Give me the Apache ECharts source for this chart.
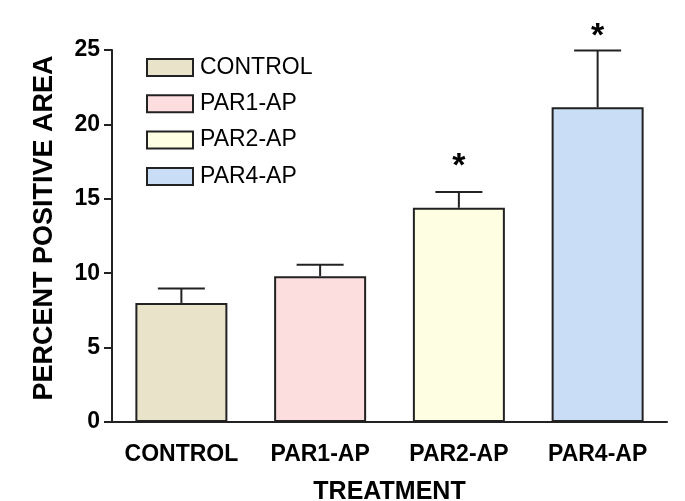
<!DOCTYPE html>
<html>
<head>
<meta charset="utf-8">
<script src="https://cdn.jsdelivr.net/npm/echarts@6/dist/echarts.min.js"></script>
<style>
html,body{margin:0;padding:0;background:#fff;}
#chart{width:685px;height:501px;}
</style>
</head>
<body>
<div id="chart"></div>
<script>
var categories = ['CONTROL', 'PAR1-AP', 'PAR2-AP', 'PAR4-AP'];
var means = [8.0, 9.8, 14.4, 21.15];
var errors = [0.97, 0.76, 1.05, 3.82];
var significance = ['', '', '*', '*'];
var yTicks = [0, 5, 10, 15, 20, 25];
var colors = ['#E9E3C9', '#FDDEDF', '#FEFEE2', '#C9DDF6'];

var FONT = "'Liberation Sans', Arial, sans-serif";
var chart = echarts.init(document.getElementById('chart'));

var barSeries = categories.map(function (c, i) {
  return {
    name: c,
    type: 'bar',
    barWidth: 92,
    barGap: '-100%',
    data: categories.map(function (_, j) { return j === i ? means[j] : '-'; }),
    itemStyle: { color: colors[i], borderColor: '#222', borderWidth: 2 },
    emphasis: { disabled: true },
    silent: true,
    z: 2
  };
});

var errData = categories.map(function (c, i) { return [i, means[i], means[i] + errors[i], significance[i]]; });

var errSeries = {
  type: 'custom',
  silent: true,
  z: 5,
  data: errData,
  renderItem: function (params, api) {
    var x = api.value(0);
    var lo = api.coord([x, api.value(1)]);
    var hi = api.coord([x, api.value(2)]);
    var half = 23.5;
    var children = [
      { type: 'line', shape: { x1: lo[0], y1: lo[1], x2: hi[0], y2: hi[1] }, style: { stroke: '#222', lineWidth: 2 } },
      { type: 'line', shape: { x1: hi[0] - half, y1: hi[1], x2: hi[0] + half, y2: hi[1] }, style: { stroke: '#222', lineWidth: 2 } }
    ];
    var sig = errData[params.dataIndex][3];
    if (sig) {
      var sy = Math.max(hi[1] - 25, 37);
      children.push({
        type: 'text',
        style: { text: sig, x: hi[0], y: sy, align: 'center', verticalAlign: 'middle', fill: '#000', font: 'bold 34px ' + FONT }
      });
    }
    return { type: 'group', children: children };
  }
};

chart.setOption({
  animation: false,
  backgroundColor: '#fff',
  grid: { left: 112, right: 18, top: 50, bottom: 79, containLabel: false, outerBoundsMode: 'none' },
  legend: {
    orient: 'vertical',
    left: 146,
    top: 56,
    padding: 0,
    itemWidth: 46,
    itemHeight: 17,
    itemGap: 13.3,
    icon: 'rect',
    selectedMode: false,
    data: categories,
    itemStyle: { borderColor: '#222', borderWidth: 2 },
    textStyle: { fontFamily: FONT, fontSize: 23, color: '#000', padding: [0, 0, 0, 2] }
  },
  xAxis: {
    type: 'category',
    data: categories,
    name: 'TREATMENT',
    nameLocation: 'middle',
    nameGap: 58,
    nameTextStyle: { fontFamily: FONT, fontSize: 25, fontWeight: 'bold', color: '#000' },
    axisLine: { lineStyle: { color: '#222', width: 2 } },
    axisTick: { alignWithLabel: true, length: 10, lineStyle: { color: '#222', width: 2 } },
    axisLabel: { interval: 0, fontFamily: FONT, fontSize: 23, fontWeight: 'bold', color: '#000', margin: 21 }
  },
  yAxis: {
    type: 'value',
    min: yTicks[0],
    max: yTicks[yTicks.length - 1],
    interval: yTicks[1] - yTicks[0],
    name: 'PERCENT POSITIVE AREA',
    nameLocation: 'middle',
    nameGap: 54,
    nameTextStyle: { fontFamily: FONT, fontSize: 27, fontWeight: 'bold', color: '#000', padding: [0, 0, 0, 16] },
    axisLine: { show: true, lineStyle: { color: '#222', width: 2 } },
    axisTick: { show: true, length: 8, lineStyle: { color: '#222', width: 2 } },
    splitLine: { show: false },
    axisLabel: { fontFamily: FONT, fontSize: 23, fontWeight: 'bold', color: '#000', margin: 12 }
  },
  series: barSeries.concat([errSeries])
});
</script>
</body>
</html>
